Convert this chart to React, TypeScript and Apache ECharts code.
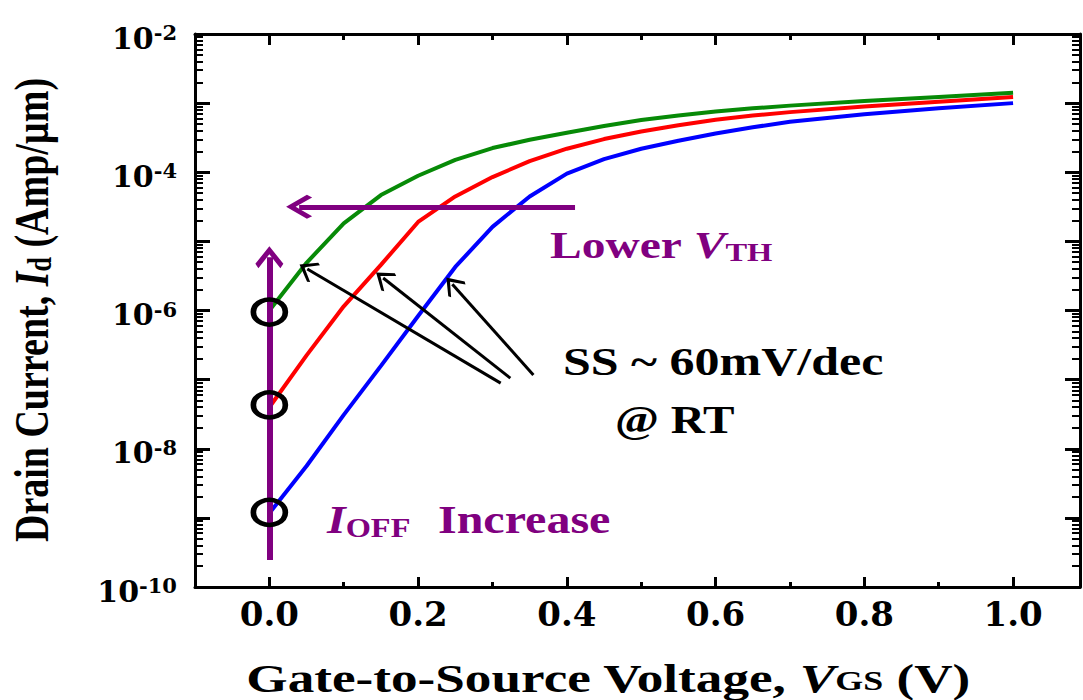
import React, { useEffect, useRef } from 'react';
import * as echarts from 'echarts';

// ---- data ----
const vgs = [0, 0.05, 0.1, 0.15, 0.2, 0.25, 0.3, 0.35, 0.4, 0.45, 0.5, 0.55, 0.6, 0.65, 0.7, 0.8, 0.9, 1.0];
const idGreen = [1.0e-6, 4.9e-6, 1.82e-5, 4.68e-5, 8.9e-5, 1.51e-4, 2.24e-4, 2.95e-4, 3.72e-4, 4.68e-4, 5.69e-4, 6.61e-4, 7.59e-4, 8.41e-4, 9.2e-4, 1.07e-3, 1.23e-3, 1.41e-3];
const idRed = [3.98e-8, 2.24e-7, 1.15e-6, 4.57e-6, 1.91e-5, 4.47e-5, 8.51e-5, 1.45e-4, 2.19e-4, 3.02e-4, 3.89e-4, 4.79e-4, 5.75e-4, 6.61e-4, 7.41e-4, 8.91e-4, 1.05e-3, 1.23e-3];
const idBlue = [1.17e-9, 5.62e-9, 3.09e-8, 1.58e-7, 8.32e-7, 4.27e-6, 1.62e-5, 4.47e-5, 9.55e-5, 1.55e-4, 2.19e-4, 2.85e-4, 3.63e-4, 4.47e-4, 5.37e-4, 6.92e-4, 8.41e-4, 1.0e-3];

const offCircleV = [0, 0, 0];
const offCircleI = [9.5e-7, 4.3e-8, 1.2e-9];

const xMajorTicks = [0, 0.2, 0.4, 0.6, 0.8, 1.0];
const xMinorTicks = [0.1, 0.3, 0.5, 0.7, 0.9];

// annotation arrows: [tail, head] in data coordinates [VGS, Id]
const ioffArrow = [[0, 2.45e-10], [0, 5.9e-6]];
const vthArrow = [[0.411, 3.16e-5], [0.04, 3.16e-5]];
const ssArrows = [
  [[0.311, 8.9e-8], [0.051, 3.98e-6]],
  [[0.324, 1.05e-7], [0.153, 2.95e-6]],
  [[0.355, 1.17e-7], [0.246, 2.4e-6]],
];

const PURPLE = '#800080';
const CHEVRON = 'path://M0,0 L14,12 L11,15 L0,5.5 L-11,15 L-14,12 Z';
const CHEVRON_THIN = 'path://M0,0 L12,11 L10.5,13 L0,4 L-10.5,13 L-12,11 Z';

const yMinorTicks: number[] = [];
for (let n = -10; n < -2; n++) {
  for (let k = 2; k <= 9; k++) yMinorTicks.push(n + Math.log10(k));
}

const SERIF = 'Liberation Serif';
const TICKFONT = 'DejaVu Serif';

function richTitle(size: number, subSize: number, color: string, lh?: number) {
  const L = lh ?? size + 2;
  return {
    n: { fontFamily: SERIF, fontWeight: 'bold', fontSize: size, lineHeight: L, fill: color, color },
    i: { fontFamily: SERIF, fontWeight: 'bold', fontStyle: 'italic', fontSize: size, lineHeight: L, fill: color, color },
    sub: { fontFamily: SERIF, fontWeight: 'bold', fontSize: subSize, lineHeight: subSize - 8, verticalAlign: 'bottom', fill: color, color },
  };
}

export default function App() {
  const ref = useRef<HTMLDivElement>(null);
  useEffect(() => {
    document.body.style.margin = '0';
    const chart = echarts.init(ref.current!, null, { renderer: 'svg' });
    const axisLine = { show: true, onZero: false, lineStyle: { color: '#000', width: 3 } };
    const noLine = { show: false, onZero: false };
    const xCommon = { type: 'value', min: -0.1, max: 1.09, splitLine: { show: false } };
    const yLogCommon = { type: 'log', min: 1e-10, max: 1e-2, logBase: 10, splitNumber: 8, splitLine: { show: false } };
    const yLinCommon = { type: 'value', min: -10, max: -2, splitLine: { show: false } };

    const markLineData: any[] = [];
    markLineData.push([
      { coord: ioffArrow[0], symbol: 'none', lineStyle: { color: PURPLE, width: 6, type: 'solid' } },
      { coord: ioffArrow[1], symbol: CHEVRON, symbolSize: [28, 22] },
    ]);
    markLineData.push([
      { coord: vthArrow[0], symbol: 'none', lineStyle: { color: PURPLE, width: 5, type: 'solid' } },
      { coord: vthArrow[1], symbol: CHEVRON, symbolSize: [24, 26] },
    ]);
    ssArrows.forEach((a) => {
      markLineData.push([
        { coord: a[0], symbol: 'none', lineStyle: { color: '#000', width: 3, type: 'solid' } },
        { coord: a[1], symbol: CHEVRON_THIN, symbolSize: [22, 18] },
      ]);
    });

    const option: any = {
      animation: false,
      backgroundColor: '#fff',
      grid: { left: 195, right: 3, top: 34, bottom: 113 },
      xAxis: [
        {
          ...xCommon, position: 'bottom', axisLine,
          axisTick: { show: true, inside: true, length: 10, customValues: xMajorTicks, lineStyle: { color: '#000', width: 3 } },
          axisLabel: {
            show: true, customValues: xMajorTicks, margin: 10,
            formatter: (v: number) => v.toFixed(1),
            fontFamily: TICKFONT, fontWeight: 'bold', fontSize: 34, color: '#000',
          },
        },
        {
          ...xCommon, position: 'bottom', axisLine: noLine,
          axisTick: { show: true, inside: true, length: 5, customValues: xMinorTicks, lineStyle: { color: '#000', width: 3 } },
          axisLabel: { show: false },
        },
        {
          ...xCommon, position: 'top', axisLine,
          axisTick: { show: true, inside: true, length: 11, customValues: xMajorTicks, lineStyle: { color: '#000', width: 3 } },
          axisLabel: { show: false },
        },
        {
          ...xCommon, position: 'top', axisLine: noLine,
          axisTick: { show: true, inside: true, length: 6, customValues: xMinorTicks, lineStyle: { color: '#000', width: 3 } },
          axisLabel: { show: false },
        },
      ],
      yAxis: [
        {
          ...yLogCommon, position: 'left', axisLine,
          axisTick: { show: true, inside: true, length: 15, lineStyle: { color: '#000', width: 3 } },
          axisLabel: {
            show: true, margin: 18, padding: [8, 0, 0, 0],
            formatter: (v: number) => {
              const e = Math.round(Math.log10(v));
              if (e % 2 !== 0) return '';
              return `{b|10}{s|${e}}`;
            },
            rich: {
              b: { fontFamily: TICKFONT, fontWeight: 'bold', fontSize: 30, lineHeight: 32, color: '#000' },
              s: { fontFamily: TICKFONT, fontWeight: 'bold', fontSize: 21, lineHeight: 12, verticalAlign: 'top', color: '#000' },
            },
          },
        },
        {
          ...yLinCommon, position: 'left', axisLine: noLine,
          axisTick: { show: true, inside: true, length: 8, customValues: yMinorTicks, lineStyle: { color: '#000', width: 2 } },
          axisLabel: { show: false },
        },
        {
          ...yLogCommon, position: 'right', axisLine,
          axisTick: { show: true, inside: true, length: 15, lineStyle: { color: '#000', width: 3 } },
          axisLabel: { show: false },
        },
        {
          ...yLinCommon, position: 'right', axisLine: noLine,
          axisTick: { show: true, inside: true, length: 8, customValues: yMinorTicks, lineStyle: { color: '#000', width: 2 } },
          axisLabel: { show: false },
        },
      ],
      series: [
        {
          type: 'line', name: 'blue', xAxisIndex: 0, yAxisIndex: 0, showSymbol: false, z: 2,
          data: vgs.map((v, i) => [v, idBlue[i]]),
          lineStyle: { color: '#0000ff', width: 4 }, itemStyle: { color: '#0000ff' },
        },
        {
          type: 'line', name: 'red', xAxisIndex: 0, yAxisIndex: 0, showSymbol: false, z: 3,
          data: vgs.map((v, i) => [v, idRed[i]]),
          lineStyle: { color: '#ff0000', width: 4 }, itemStyle: { color: '#ff0000' },
        },
        {
          type: 'line', name: 'green', xAxisIndex: 0, yAxisIndex: 0, showSymbol: false, z: 4,
          data: vgs.map((v, i) => [v, idGreen[i]]),
          lineStyle: { color: '#078a07', width: 4 }, itemStyle: { color: '#078a07' },
        },
        {
          type: 'scatter', name: 'Ioff', xAxisIndex: 0, yAxisIndex: 0, z: 6,
          symbol: 'circle', symbolSize: [32, 25],
          itemStyle: { color: 'rgba(0,0,0,0)', borderColor: '#000', borderWidth: 5, opacity: 1 },
          data: offCircleV.map((v, i) => [v, offCircleI[i]]),
          silent: true,
          markLine: {
            silent: true, animation: false, precision: 12,
            label: { show: false }, emphasis: { disabled: true },
            symbol: ['none', 'none'],
            data: markLineData,
          },
        },
      ],
      graphic: [
        {
          type: 'text', x: 31, y: 310, rotation: Math.PI / 2, scaleY: 1.27,
          style: { text: '{n|Drain Current, }{i|I}{sub|d}{n| (Amp/µm)}', rich: richTitle(38, 26, '#000'), align: 'center', verticalAlign: 'middle' },
        },
        {
          type: 'text', x: 608, y: 678, scaleX: 1.33,
          style: { text: '{n|Gate-to-Source Voltage, }{i|V}{sub|GS}{n| (V)}', rich: richTitle(40, 27, '#000', 34), align: 'center', verticalAlign: 'middle' },
        },
        {
          type: 'text', x: 550, y: 245, scaleX: 1.25,
          style: { text: '{n|Lower }{i|V}{sub|TH}', rich: richTitle(38, 26, PURPLE), align: 'left', verticalAlign: 'middle' },
        },
        {
          type: 'text', x: 563, y: 362, scaleX: 1.25,
          style: { text: '{n|SS ~ 60mV/dec}', rich: richTitle(40, 27, '#000'), align: 'left', verticalAlign: 'middle' },
        },
        {
          type: 'text', x: 615, y: 419, scaleX: 1.18,
          style: { text: '{n|@ RT}', rich: richTitle(40, 27, '#000'), align: 'left', verticalAlign: 'middle' },
        },
        {
          type: 'text', x: 327, y: 520, scaleX: 1.2,
          style: { text: '{i|I}{sub|OFF}', rich: richTitle(40, 27, PURPLE), align: 'left', verticalAlign: 'middle' },
        },
        {
          type: 'text', x: 438, y: 520, scaleX: 1.2,
          style: { text: '{n|Increase}', rich: richTitle(40, 27, PURPLE), align: 'left', verticalAlign: 'middle' },
        },
      ],
    };
    chart.setOption(option);
    return () => chart.dispose();
  }, []);
  return <div ref={ref} style={{ position: 'absolute', left: 0, top: 0, width: 1083, height: 700, background: '#fff' }} />;
}
